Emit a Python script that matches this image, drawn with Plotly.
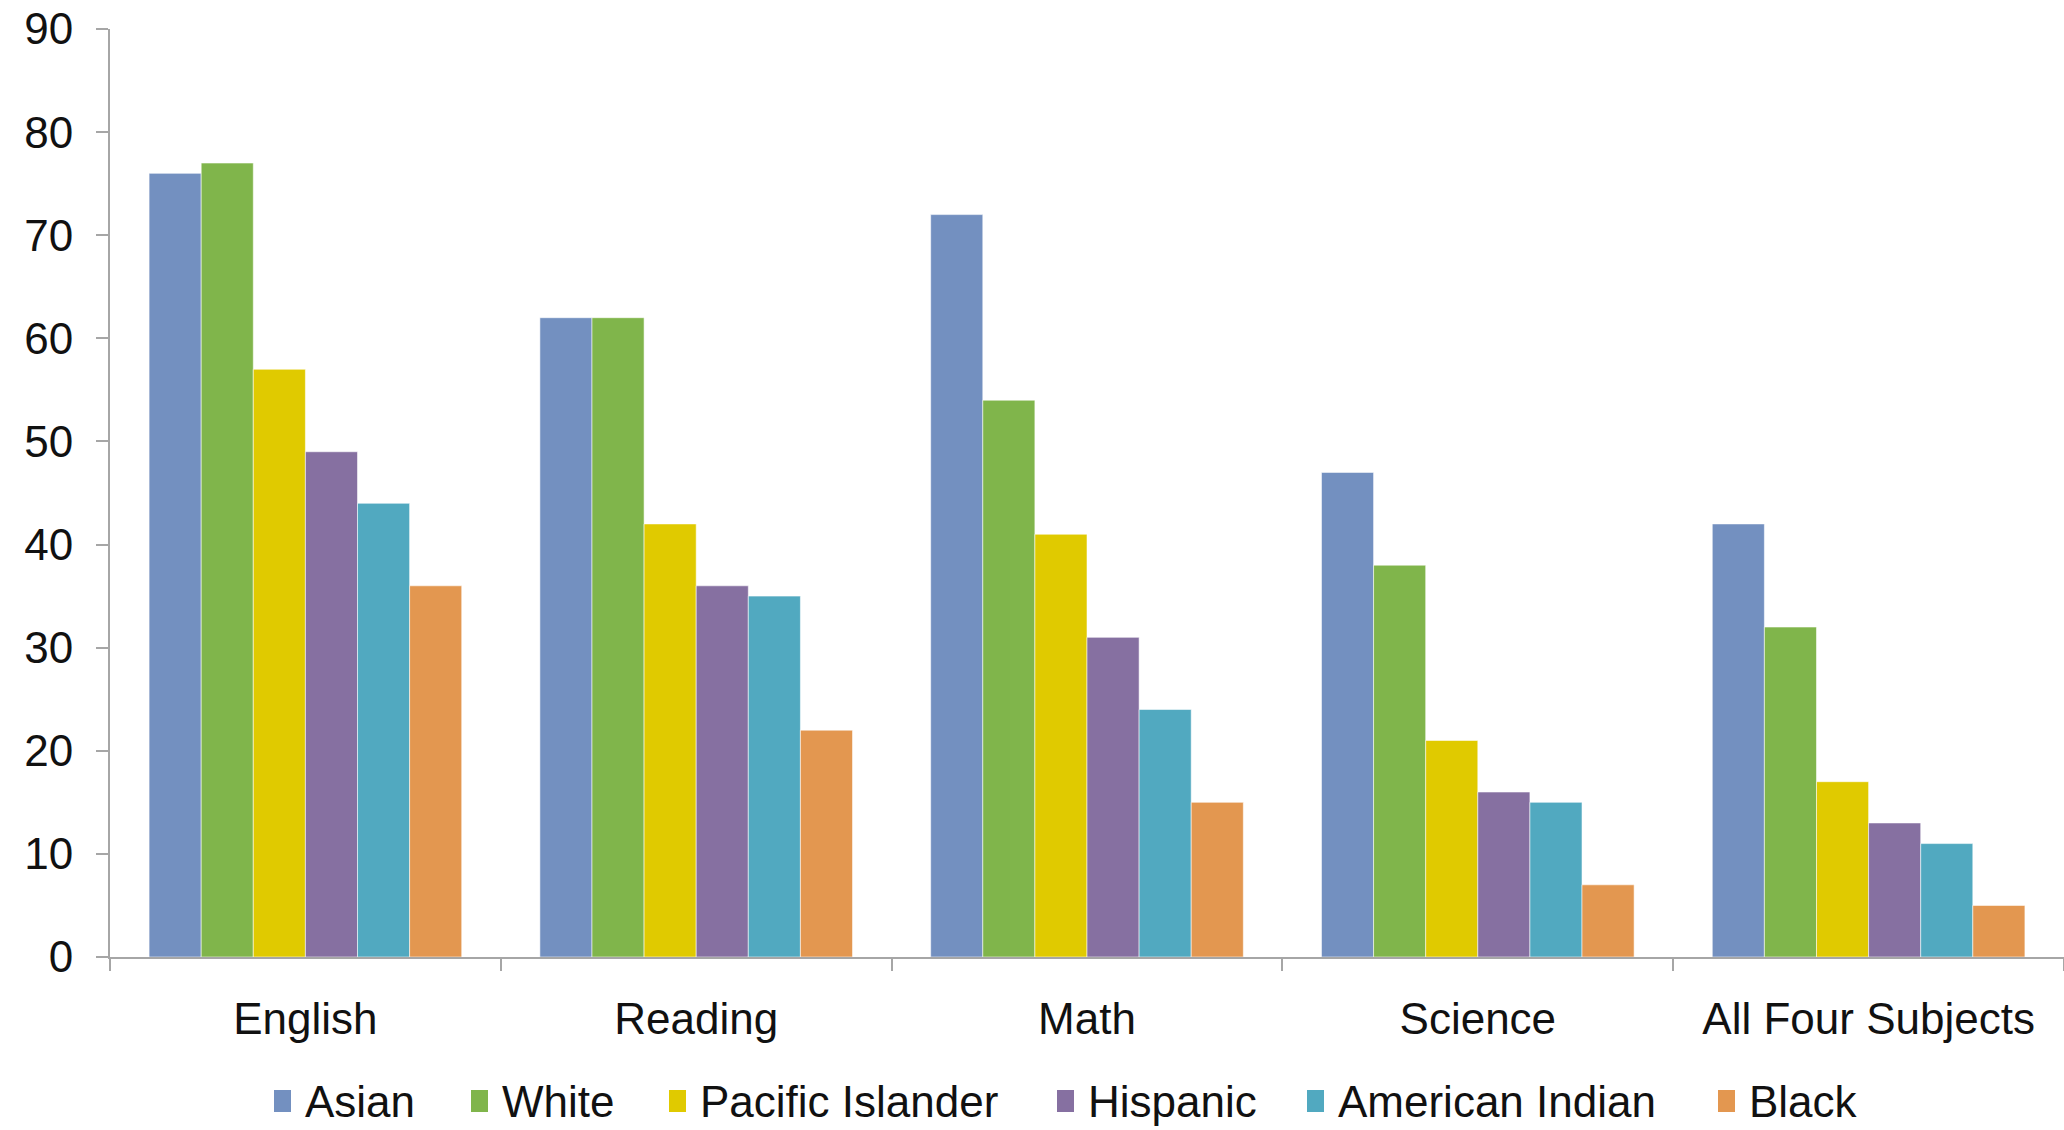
import plotly.graph_objects as go

# Subject categories along the x axis
subjects = ["English", "Reading", "Math", "Science", "All Four Subjects"]

# Percentage per group for each subject
asian = [76, 62, 72, 47, 42]
white = [77, 62, 54, 38, 32]
pacific_islander = [57, 42, 41, 21, 17]
hispanic = [49, 36, 31, 16, 13]
american_indian = [44, 35, 24, 15, 11]
black = [36, 22, 15, 7, 5]

y_ticks = [0, 10, 20, 30, 40, 50, 60, 70, 80, 90]

series = [
    ("Asian", asian, "#7390C0"),
    ("White", white, "#80B54B"),
    ("Pacific Islander", pacific_islander, "#E0CA00"),
    ("Hispanic", hispanic, "#8670A1"),
    ("American Indian", american_indian, "#51A9C0"),
    ("Black", black, "#E39750"),
]

FONT = "Liberation Sans, Arial, Helvetica, sans-serif"

W, H = 2064, 1130
M_L, M_R, M_T, M_B = 110, 0, 29, 173
PLOT_W = W - M_L - M_R
PLOT_H = H - M_T - M_B


def px_x(px):
    """Horizontal pixel position -> paper fraction."""
    return (px - M_L) / PLOT_W


def px_y(py):
    """Vertical pixel position (from top) -> paper fraction."""
    return (H - M_B - py) / PLOT_H


fig = go.Figure()
for name, values, color in series:
    fig.add_trace(go.Bar(
        name=name,
        x=subjects,
        y=values,
        marker=dict(color=color, line=dict(color="rgba(255,255,255,0.55)", width=1)),
        showlegend=False,
    ))

# Legend row drawn below the axis: a colour swatch followed by the group name
legend_swatch_left = [274, 471, 669, 1057, 1307, 1718]
swatch_w, swatch_h = 17, 22
legend_mid = 1101
shapes = []
annotations = []
for (name, _, color), left in zip(series, legend_swatch_left):
    shapes.append(dict(
        type="rect", xref="paper", yref="paper",
        x0=px_x(left), x1=px_x(left + swatch_w),
        y0=px_y(legend_mid + swatch_h / 2), y1=px_y(legend_mid - swatch_h / 2),
        fillcolor=color, line=dict(width=0), layer="above",
    ))
    annotations.append(dict(
        text=name, xref="paper", yref="paper",
        x=px_x(left + swatch_w + 12), y=px_y(legend_mid),
        xanchor="left", yanchor="middle", showarrow=False,
        font=dict(size=44, color="#111111", family=FONT),
    ))

fig.update_layout(
    width=W,
    height=H,
    barmode="group",
    bargap=0.2,
    bargroupgap=0,
    plot_bgcolor="white",
    paper_bgcolor="white",
    margin=dict(l=M_L, r=M_R, t=M_T, b=M_B),
    font=dict(family=FONT, size=44, color="#111111"),
    showlegend=False,
    shapes=shapes,
    annotations=annotations,
)

fig.update_xaxes(
    type="category",
    showline=True,
    linecolor="#A6A6A6",
    linewidth=2,
    ticks="outside",
    tickson="boundaries",
    ticklen=12,
    tickwidth=2,
    tickcolor="#A6A6A6",
    showgrid=False,
    ticklabelstandoff=22,
    tickfont=dict(size=44),
)

fig.update_yaxes(
    range=[0, 90],
    tickvals=y_ticks,
    showline=True,
    linecolor="#A6A6A6",
    linewidth=2,
    ticks="outside",
    ticklen=12,
    tickwidth=2,
    tickcolor="#A6A6A6",
    showgrid=False,
    zeroline=False,
    ticklabelstandoff=14,
    tickfont=dict(size=44),
)

fig.write_html("out.html")
